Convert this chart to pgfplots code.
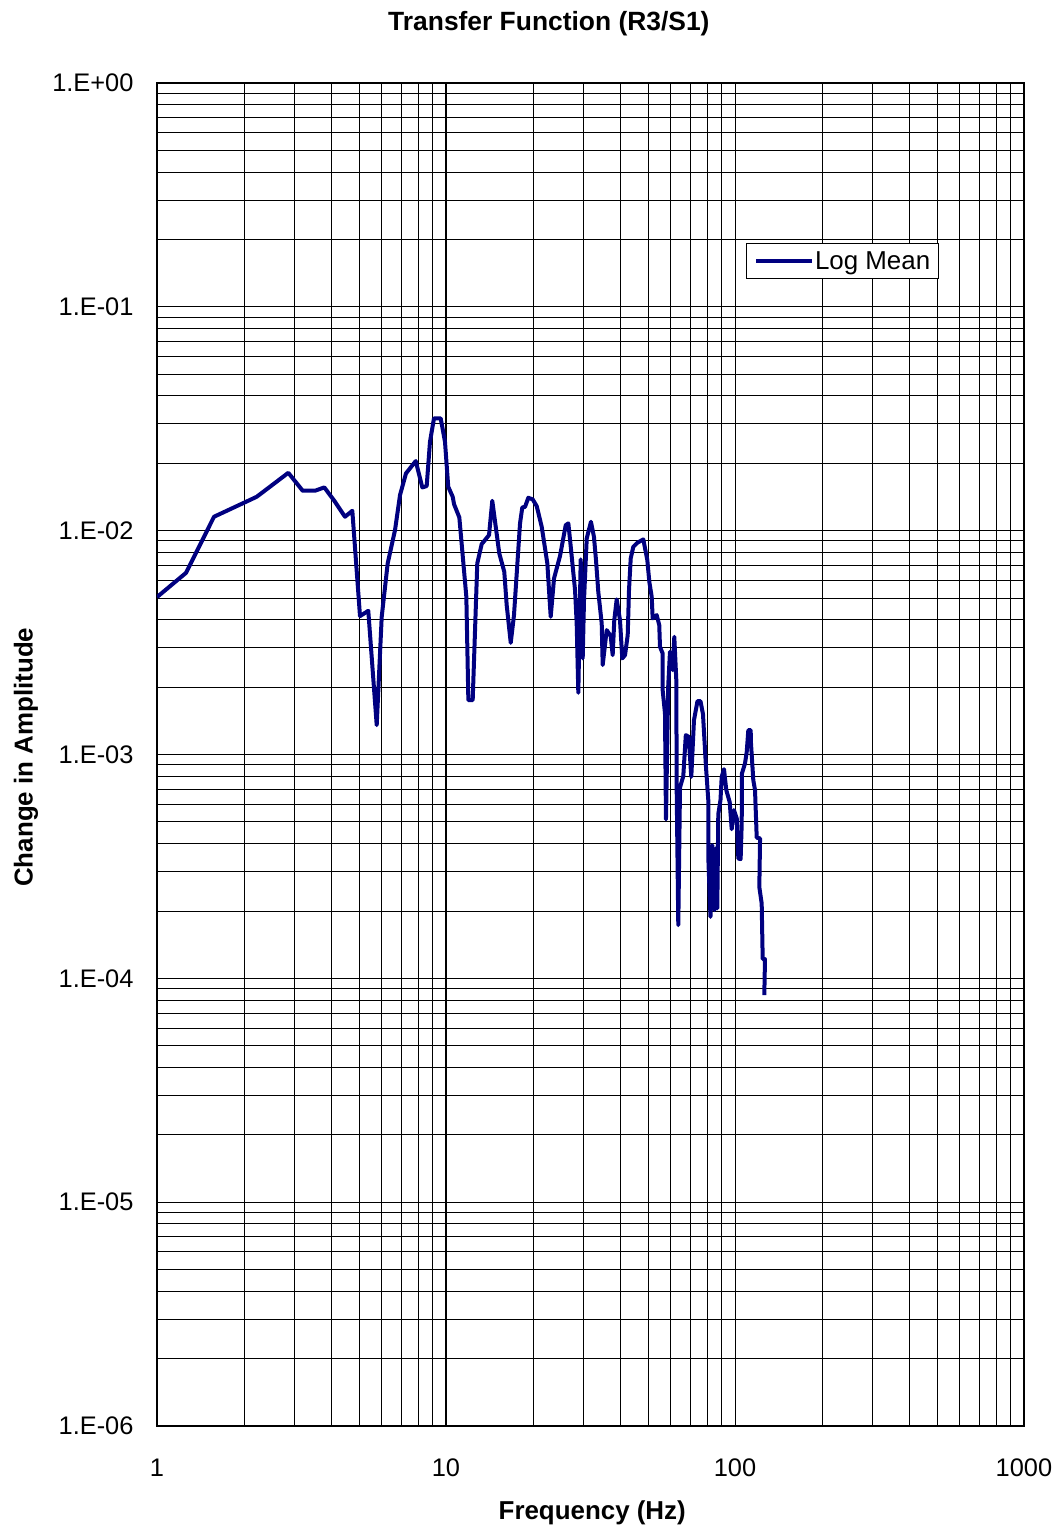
\documentclass[border=0pt]{standalone}
\usepackage{pgfplots}
\pgfplotsset{compat=1.18}
\usepackage{fontspec}
\setmainfont{Liberation Sans}
\definecolor{navy}{RGB}{0,0,128}
\begin{document}
\begin{tikzpicture}
\begin{axis}[
  scale only axis,
  width=867bp, height=1343bp,
  xmode=log, ymode=log,
  xmin=1, xmax=1000, ymin=1e-6, ymax=1,
  xtick={1,10,100,1000}, xticklabels={1,10,100,1000},
  ytick={1e-6,1e-5,1e-4,1e-3,1e-2,1e-1,1},
  yticklabels={1.E-06,1.E-05,1.E-04,1.E-03,1.E-02,1.E-01,1.E+00},
  major tick length=0pt, minor tick length=0pt,
  grid=both,
  major grid style={black, line width=1bp},
  minor grid style={black, line width=0.9bp},
  axis line style={black, line width=1.5bp},
  tick label style={font=\fontsize{25.5}{30}\selectfont},
  xticklabel style={yshift=-29bp},
  yticklabel style={xshift=-20bp},
  title={\bfseries Transfer Function (R3/S1)},
  title style={at={(axis description cs:0.452,1.035)}, anchor=base, font=\fontsize{26.5}{30}\selectfont},
  xlabel={\bfseries Frequency (Hz)},
  xlabel style={at={(axis description cs:0.502,-0.0693)}, anchor=base, font=\fontsize{26}{30}\selectfont},
  ylabel={\bfseries Change in Amplitude},
  ylabel style={at={(axis description cs:-0.1435,0.498)}, anchor=base, font=\fontsize{26}{30}\selectfont},
  legend style={at={(axis description cs:0.6794,0.8809)}, anchor=north west, draw=black, line width=1bp,
    inner xsep=7.5bp, inner ysep=5bp, font=\fontsize{26}{30}\selectfont,
    nodes={inner xsep=1bp, inner ysep=3bp}},
  legend image code/.code={\draw[#1] (0bp,0bp) -- (56bp,0bp);},
]
\addplot[navy, line width=4bp, line join=round] coordinates {
(1,0.00505)
(1.26,0.00648)
(1.575,0.01154)
(2.213,0.01417)
(2.847,0.01814)
(3.193,0.01508)
(3.522,0.01508)
(3.793,0.01561)
(4.107,0.0136)
(4.472,0.01154)
(4.741,0.01227)
(5.04,0.004153)
(5.384,0.004386)
(5.758,0.001353)
(5.992,0.004124)
(6.284,0.007143)
(6.662,0.01006)
(6.933,0.01442)
(7.271,0.01803)
(7.857,0.02046)
(8.279,0.01561)
(8.574,0.01582)
(8.802,0.02495)
(9.087,0.03176)
(9.587,0.03176)
(9.92,0.02495)
(10.18,0.01571)
(10.55,0.01417)
(10.66,0.01315)
(11.12,0.01147)
(11.76,0.005066)
(11.95,0.00175)
(12.37,0.00175)
(12.83,0.007143)
(13.29,0.008712)
(14.09,0.009557)
(14.46,0.0136)
(15.29,0.007916)
(15.91,0.006553)
(16.22,0.004651)
(16.75,0.003155)
(17.19,0.004196)
(18.04,0.01078)
(18.37,0.01271)
(18.77,0.01277)
(19.27,0.01403)
(19.95,0.0138)
(20.6,0.01288)
(21.44,0.01041)
(22.42,0.007143)
(23.03,0.004124)
(23.65,0.006121)
(24.8,0.0077)
(25.96,0.01059)
(26.51,0.01078)
(27.02,0.008475)
(27.96,0.005428)
(28.33,0.003853)
(28.7,0.001887)
(29.25,0.007442)
(29.72,0.002688)
(30.03,0.004897)
(30.69,0.009238)
(31.74,0.01096)
(32.51,0.00939)
(33.04,0.00739)
(33.65,0.005333)
(34.58,0.003853)
(34.85,0.00251)
(35.98,0.003596)
(37.15,0.003381)
(37.74,0.00278)
(38.23,0.003986)
(38.97,0.004932)
(40.0,0.003986)
(40.74,0.002688)
(41.64,0.00278)
(42.54,0.003416)
(42.98,0.005428)
(43.57,0.007519)
(44.48,0.008475)
(45.92,0.008829)
(48.17,0.009143)
(49.73,0.00739)
(50.53,0.00591)
(51.5,0.005066)
(51.9,0.004056)
(53.58,0.004196)
(54.7,0.003786)
(55.01,0.003028)
(56.2,0.002829)
(56.2,0.00194)
(57.25,0.001526)
(57.7,0.000513)
(58.76,0.002042)
(59.57,0.002876)
(60.86,0.002383)
(61.66,0.003357)
(62.65,0.00215)
(62.85,0.000693)
(63.65,0.0001729)
(64.53,0.0007129)
(66.24,0.0008008)
(67.58,0.001221)
(69.15,0.0012)
(70.6,0.000795)
(72.13,0.001424)
(74.17,0.001732)
(75.96,0.001732)
(77.5,0.001515)
(79.37,0.000881)
(80.83,0.000626)
(80.83,0.000349)
(82.26,0.0001883)
(83.46,0.0003936)
(84.93,0.0002017)
(85.96,0.0003817)
(86.85,0.0002053)
(87.54,0.0005415)
(89.08,0.000626)
(89.95,0.000795)
(91.6,0.00086)
(93.3,0.000693)
(95.87,0.000613)
(97.4,0.000464)
(99.2,0.000564)
(101.4,0.000518)
(102.7,0.000343)
(104.6,0.000341)
(105.5,0.000492)
(105.7,0.000823)
(108.3,0.000912)
(109.8,0.001028)
(111.2,0.001285)
(113.3,0.001285)
(113.6,0.00112)
(115.7,0.000769)
(117.3,0.000693)
(118.9,0.000425)
(122.1,0.000422)
(121.4,0.0002556)
(123.7,0.000216)
(124.7,0.0001219)
(127.0,0.0001219)
(126.3,0.0000841)
};
\addlegendentry{Log Mean}
\end{axis}
\pgfresetboundingbox
\path ([shift={(-157bp,-105bp)}]current axis.south west) rectangle ([shift={(35bp,83bp)}]current axis.north east);
\end{tikzpicture}
\end{document}
